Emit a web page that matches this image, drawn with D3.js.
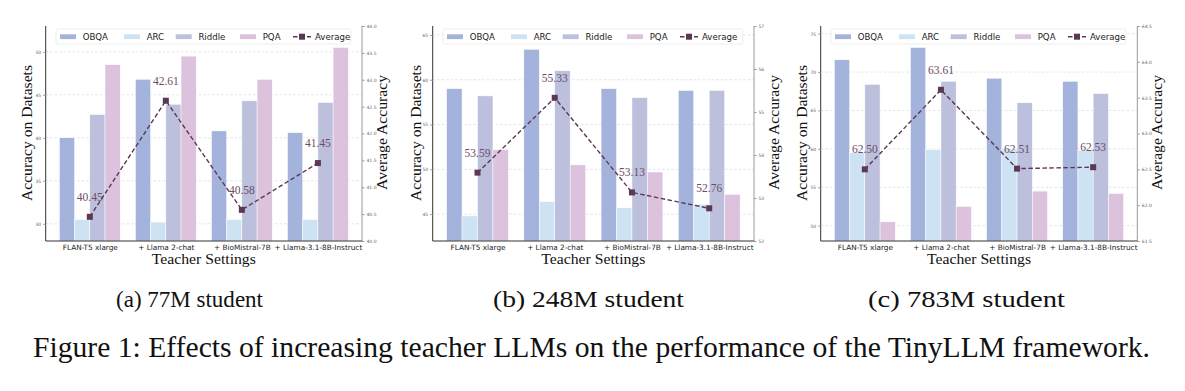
<!DOCTYPE html>
<html>
<head>
<meta charset="utf-8">
<script src="https://cdn.jsdelivr.net/npm/d3@7"></script>
<style>
  body { margin: 0; background: #fff; }
  svg { display: block; }
</style>
</head>
<body>
<div id="fig"></div>
<script>
// teacher settings on the x axis
const teachers = ["FLAN-T5 xlarge", "+ Llama 2-chat", "+ BioMistral-7B", "+ Llama-3.1-8B-Instruct"];
const datasets = ["OBQA", "ARC", "Riddle", "PQA"];

// (a) 77M student
const obqa77 = [40.0, 46.8, 40.8, 40.6];
const arc77 = [30.5, 30.2, 30.5, 30.5];
const riddle77 = [42.7, 43.9, 44.3, 44.1];
const pqa77 = [48.5, 49.5, 46.8, 50.5];
const avg77 = [40.45, 42.61, 40.58, 41.45];

// (b) 248M student
const obqa248 = [59.0, 63.4, 59.0, 58.8];
const arc248 = [44.8, 46.4, 45.7, 46.1];
const riddle248 = [58.2, 61.0, 58.0, 58.8];
const pqa248 = [52.2, 50.5, 49.7, 47.2];
const avg248 = [53.59, 55.33, 53.13, 52.76];

// (c) 783M student
const obqa783 = [71.6, 73.2, 69.2, 68.8];
const arc783 = [59.5, 59.9, 60.0, 59.8];
const riddle783 = [68.4, 68.8, 66.0, 67.2];
const pqa783 = [50.5, 52.5, 54.5, 54.2];
const avg783 = [62.50, 63.61, 62.51, 62.53];

// axis ticks
const leftTicks77 = [30, 35, 40, 45, 50];
const rightTicks77 = [40.0, 40.5, 41.0, 41.5, 42.0, 42.5, 43.0, 43.5, 44.0];
const leftTicks248 = [45, 50, 55, 60, 65];
const rightTicks248 = [52, 53, 54, 55, 56, 57];
const leftTicks783 = [50, 55, 60, 65, 70, 75];
const rightTicks783 = [61.5, 62.0, 62.5, 63.0, 63.5, 64.0, 64.5];

const colorPalette = {
  "OBQA": "#a4b3dc",
  "ARC": "#cde3f4",
  "Riddle": "#bcc0dc",
  "PQA": "#ddc2dd"
};
const lineColor = "#5b3853";
const labelColor = "#6d4c66";

const panels = [
  { bars: [obqa77, arc77, riddle77, pqa77], avg: avg77, yDom: [28, 53], y2Dom: [40, 44],
    lt: leftTicks77, rt: rightTicks77, rfmt: ".1f", left: 45.7, right: 362, ytOff: 14, caption: "(a) 77M student", capX: 116, capW: 147 },
  { bars: [obqa248, arc248, riddle248, pqa248], avg: avg248, yDom: [42, 66], y2Dom: [52, 57],
    lt: leftTicks248, rt: rightTicks248, rfmt: "d", left: 432.7, right: 754, ytOff: 12, caption: "(b) 248M student", capX: 493, capW: 191 },
  { bars: [obqa783, arc783, riddle783, pqa783], avg: avg783, yDom: [48, 76], y2Dom: [61.5, 64.5],
    lt: leftTicks783, rt: rightTicks783, rfmt: ".1f", left: 820.7, right: 1137.3, ytOff: 14, caption: "(c) 783M student", capX: 868, capW: 197 }
];

const W = 1185, H = 391;
const plotTop = 26, plotBottom = 241;
const sans = "'DejaVu Sans', sans-serif";
const serif = "'Liberation Serif', 'Times New Roman', serif";

const svg = d3.select("#fig").append("svg")
  .attr("width", W).attr("height", H);

panels.forEach(p => {
  const g = svg.append("g");

  const x = d3.scaleLinear().domain([-0.58, 3.58]).range([p.left, p.right]);
  const y = d3.scaleLinear().domain(p.yDom).range([plotBottom, plotTop]);
  const y2 = d3.scaleLinear().domain(p.y2Dom).range([plotBottom, plotTop]);
  const barW = x(0.2) - x(0);

  // dashed grid at the left ticks
  g.append("g").selectAll("line")
    .data(p.lt)
    .enter().append("line")
    .attr("x1", p.left).attr("x2", p.right)
    .attr("y1", d => y(d)).attr("y2", d => y(d))
    .attr("stroke", "#d9d9d9")
    .attr("stroke-width", 0.7)
    .attr("stroke-dasharray", "2.5,2");

  // bars
  datasets.forEach((ds, k) => {
    g.append("g").selectAll("rect")
      .data(p.bars[k])
      .enter().append("rect")
      .attr("x", (d, i) => x(i + (k - 1.5) * 0.2) - barW / 2)
      .attr("y", d => y(d))
      .attr("width", barW)
      .attr("height", d => plotBottom - y(d))
      .attr("fill", colorPalette[ds])
      .attr("stroke", "#fff")
      .attr("stroke-width", 0.5);
  });

  // left axis
  const la = g.append("g")
    .attr("transform", `translate(${p.left},0)`)
    .call(d3.axisLeft(y).tickValues(p.lt).tickSize(2.5).tickPadding(2));
  la.select(".domain").attr("stroke", "#333").attr("d", `M0,${plotTop}V${plotBottom}`);
  la.selectAll(".tick line").attr("stroke", "#999");
  la.selectAll(".tick text").attr("font-family", sans).attr("font-size", 4.5).attr("fill", "#666");

  // right axis
  const ra = g.append("g")
    .attr("transform", `translate(${p.right},0)`)
    .call(d3.axisRight(y2).tickValues(p.rt).tickFormat(d3.format(p.rfmt)).tickSize(2.5).tickPadding(2));
  ra.select(".domain").attr("stroke", "#999").attr("d", `M0,${plotTop}V${plotBottom}`);
  ra.selectAll(".tick line").attr("stroke", "#999");
  ra.selectAll(".tick text").attr("font-family", sans).attr("font-size", 4.5).attr("fill", "#666");

  // bottom axis
  const ba = g.append("g")
    .attr("transform", `translate(0,${plotBottom})`)
    .call(d3.axisBottom(x).tickValues([0, 1, 2, 3]).tickFormat(i => teachers[i]).tickSize(0).tickPadding(3.5));
  ba.select(".domain").attr("stroke", "#333").attr("d", `M${p.left},0H${p.right}`);
  ba.selectAll(".tick text").attr("font-family", sans).attr("font-size", 7.3).attr("fill", "#222");

  // average line
  const line = d3.line().x((d, i) => x(i)).y(d => y2(d));
  g.append("path")
    .datum(p.avg)
    .attr("d", line)
    .attr("fill", "none")
    .attr("stroke", lineColor)
    .attr("stroke-width", 1.4)
    .attr("stroke-dasharray", "4.5,2.5");

  g.append("g").selectAll("rect")
    .data(p.avg)
    .enter().append("rect")
    .attr("x", (d, i) => x(i) - 3)
    .attr("y", d => y2(d) - 3)
    .attr("width", 6).attr("height", 6)
    .attr("fill", lineColor);

  g.append("g").selectAll("text")
    .data(p.avg)
    .enter().append("text")
    .attr("x", (d, i) => x(i))
    .attr("y", d => y2(d) - 16)
    .attr("text-anchor", "middle")
    .attr("font-family", serif)
    .attr("font-size", 11.5)
    .attr("fill", labelColor)
    .text(d => d.toFixed(2));

  // legend
  const lg = g.append("g").attr("transform", `translate(${p.left + 10.3},${29})`);
  lg.append("rect")
    .attr("width", p.right - p.left - 21.6).attr("height", 15)
    .attr("rx", 2)
    .attr("fill", "#fff").attr("fill-opacity", 0.85)
    .attr("stroke", "#e3e3e3").attr("stroke-width", 0.6);
  const entries = datasets.concat(["Average"]);
  const starts = [4, 68, 119.7, 184, 237];
  entries.forEach((name, i) => {
    const e = lg.append("g").attr("transform", `translate(${starts[i]},0)`);
    if (name === "Average") {
      e.append("line").attr("x1", 0).attr("x2", 18).attr("y1", 7.7).attr("y2", 7.7)
        .attr("stroke", lineColor).attr("stroke-width", 1.4).attr("stroke-dasharray", "4.5,2.5");
      e.append("rect").attr("x", 6).attr("y", 4.7).attr("width", 6).attr("height", 6).attr("fill", lineColor);
      e.append("text").attr("x", 22).attr("y", 10.7)
        .attr("font-family", sans).attr("font-size", 8.6).attr("fill", "#222").text(name);
    } else {
      e.append("rect").attr("x", 0).attr("y", 5.3).attr("width", 16).attr("height", 4.8)
        .attr("fill", colorPalette[name]);
      e.append("text").attr("x", 22.7).attr("y", 10.7)
        .attr("font-family", sans).attr("font-size", 8.6).attr("fill", "#222").text(name);
    }
  });

  // axis titles
  g.append("text")
    .attr("x", (p.left + p.right) / 2)
    .attr("y", 264)
    .attr("text-anchor", "middle")
    .attr("font-family", serif)
    .attr("font-size", 15)
    .attr("fill", "#111")
    .attr("textLength", 104)
    .attr("lengthAdjust", "spacingAndGlyphs")
    .text("Teacher Settings");

  g.append("text")
    .attr("transform", `translate(${p.left - p.ytOff},${(plotTop + plotBottom) / 2 - 0.5}) rotate(-90)`)
    .attr("text-anchor", "middle")
    .attr("font-family", serif)
    .attr("font-size", 15)
    .attr("fill", "#111")
    .attr("textLength", 136)
    .attr("lengthAdjust", "spacingAndGlyphs")
    .text("Accuracy on Datasets");

  g.append("text")
    .attr("transform", `translate(${p.right + 24.5},${(plotTop + plotBottom) / 2 - 1}) rotate(-90)`)
    .attr("text-anchor", "middle")
    .attr("font-family", serif)
    .attr("font-size", 15)
    .attr("fill", "#111")
    .attr("textLength", 115)
    .attr("lengthAdjust", "spacingAndGlyphs")
    .text("Average Accuracy");

  // sub caption
  svg.append("text")
    .attr("x", p.capX)
    .attr("y", 307)
    .attr("font-family", serif)
    .attr("font-size", 24)
    .attr("fill", "#111")
    .attr("textLength", p.capW)
    .attr("lengthAdjust", "spacingAndGlyphs")
    .text(p.caption);
});

svg.append("text")
  .attr("x", 33)
  .attr("y", 357)
  .attr("font-family", serif)
  .attr("font-size", 29)
  .attr("fill", "#111")
  .attr("textLength", 1117)
  .attr("lengthAdjust", "spacingAndGlyphs")
  .text("Figure 1: Effects of increasing teacher LLMs on the performance of the TinyLLM framework.");
</script>
</body>
</html>
